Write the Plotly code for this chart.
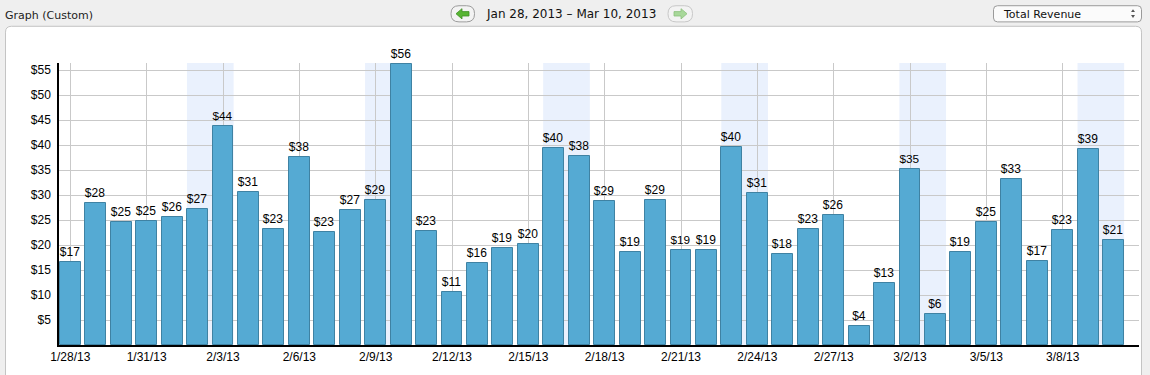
import plotly.graph_objects as go
import pandas as pd

# ---- data ----
start_date = "2013-01-28"
revenue = [16.6, 28.4, 24.7, 24.9, 25.6, 27.2, 43.8, 30.7, 23.3, 37.6,
           22.7, 27.0, 29.0, 56.3, 22.9, 10.6, 16.4, 19.4, 20.2, 39.5,
           37.8, 28.8, 18.6, 29.0, 19.0, 19.0, 39.7, 30.5, 18.2, 23.3,
           26.0, 3.9, 12.5, 35.2, 6.3, 18.6, 24.7, 33.3, 16.8, 23.1,
           39.3, 21.1]
dates = pd.date_range(start_date, periods=len(revenue), freq="D")
tick_dates = dates[::3]
tick_labels = ["1/28/13", "1/31/13", "2/3/13", "2/6/13", "2/9/13", "2/12/13",
               "2/15/13", "2/18/13", "2/21/13", "2/24/13", "2/27/13", "3/2/13",
               "3/5/13", "3/8/13"]
y_ticks = [5, 10, 15, 20, 25, 30, 35, 40, 45, 50, 55]
y_tick_labels = ["$" + str(v) for v in y_ticks]
title_text = "Graph (Custom)"
range_text = "Jan 28, 2013 \u2013 Mar 10, 2013"
metric_text = "Total Revenue"

# ---- geometry ----
W, H = 1150, 375
L, R, T, B = 59, 1139, 63, 351
PW, PH = R - L, B - T
DAY = 86400000


def px(x):
    return (x - L) / PW


def py(y):
    return (B - y) / PH


def rrect(x0, y0, x1, y1, r):
    pts = (f"M {px(x0 + r)},{py(y0)} L {px(x1 - r)},{py(y0)} "
           f"Q {px(x1)},{py(y0)} {px(x1)},{py(y0 + r)} "
           f"L {px(x1)},{py(y1 - r)} Q {px(x1)},{py(y1)} {px(x1 - r)},{py(y1)} "
           f"L {px(x0 + r)},{py(y1)} Q {px(x0)},{py(y1)} {px(x0)},{py(y1 - r)} "
           f"L {px(x0)},{py(y0 + r)} Q {px(x0)},{py(y0)} {px(x0 + r)},{py(y0)} Z")
    return pts


def poly(points):
    s = "M " + " L ".join(f"{px(a)},{py(b)}" for a, b in points) + " Z"
    return s


fig = go.Figure()
fig.add_trace(go.Bar(
    x=dates, y=revenue, width=0.82 * DAY,
    marker=dict(color="#55aad3", line=dict(color="#3f82a3", width=1)),
    texttemplate="$%{y:.0f}", textposition="outside",
    textfont=dict(family="Liberation Sans, Arial", size=12, color="#000"),
    cliponaxis=False, hoverinfo="skip",
))

shapes = []
# page panel
shapes.append(dict(type="path", xref="paper", yref="paper",
                   path=rrect(5.5, 25.5, 1141.5, 395, 6),
                   fillcolor="white", line=dict(color="#c4c4c4", width=1),
                   layer="below"))
# weekend bands
for d in dates:
    if d.weekday() == 5:
        shapes.append(dict(type="rect", xref="x", yref="paper",
                           x0=d - pd.Timedelta(hours=10),
                           x1=d + pd.Timedelta(days=1, hours=10),
                           y0=0, y1=1, fillcolor="#eaf1fd", line=dict(width=0),
                           layer="below"))
# nav buttons
shapes.append(dict(type="path", xref="paper", yref="paper",
                   path=rrect(451, 4.5, 474.5, 21, 8),
                   fillcolor="#f3f3f3", line=dict(color="#9c9c9c", width=1)))
shapes.append(dict(type="path", xref="paper", yref="paper",
                   path=poly([(456, 12.7), (462, 7.5), (462, 10.5), (469, 10.5),
                              (469, 15), (462, 15), (462, 18)]),
                   fillcolor="#58b533", line=dict(color="#3f8f25", width=0.8)))
shapes.append(dict(type="path", xref="paper", yref="paper",
                   path=rrect(668, 4.5, 692.5, 21, 8),
                   fillcolor="#f3f3f3", line=dict(color="#c8c8c8", width=1)))
shapes.append(dict(type="path", xref="paper", yref="paper",
                   path=poly([(687, 12.7), (681, 7.5), (681, 10.5), (674, 10.5),
                              (674, 15), (681, 15), (681, 18)]),
                   fillcolor="#a8d89a", line=dict(color="#8cc07c", width=0.8)))
# dropdown
shapes.append(dict(type="path", xref="paper", yref="paper",
                   path=rrect(993.5, 4.5, 1141.5, 21, 4),
                   fillcolor="#fbfbfb", line=dict(color="#9a9a9a", width=1)))
shapes.append(dict(type="path", xref="paper", yref="paper",
                   path=poly([(1131, 11), (1135, 11), (1133, 8)]),
                   fillcolor="#555", line=dict(width=0)))
shapes.append(dict(type="path", xref="paper", yref="paper",
                   path=poly([(1131, 14), (1135, 14), (1133, 17)]),
                   fillcolor="#555", line=dict(width=0)))

annotations = [
    dict(text=title_text, xref="paper", yref="paper", x=px(3), y=py(15),
         xanchor="left", yanchor="middle", showarrow=False,
         font=dict(family="DejaVu Sans", size=11, color="#222")),
    dict(text=range_text, xref="paper", yref="paper", x=px(571), y=py(13),
         xanchor="center", yanchor="middle", showarrow=False,
         font=dict(family="DejaVu Sans", size=12, color="#111")),
    dict(text=metric_text, xref="paper", yref="paper", x=px(1001), y=py(13),
         xanchor="left", yanchor="middle", showarrow=False,
         font=dict(family="DejaVu Sans", size=11, color="#111")),
]

fig.update_layout(
    width=W, height=H,
    margin=dict(l=L, r=W - R, t=T, b=H - B, pad=0),
    paper_bgcolor="#efefef", plot_bgcolor="rgba(0,0,0,0)",
    showlegend=False, shapes=shapes, annotations=annotations,
    bargap=0,
)
fig.update_xaxes(
    type="date",
    range=[dates[0] - pd.Timedelta(hours=10.7), dates[0] + pd.Timedelta(days=42)],
    tickmode="array", tickvals=tick_dates, ticktext=tick_labels,
    showgrid=True, gridcolor="#c9c9c9", gridwidth=1,
    showline=True, linecolor="#000", linewidth=1.5,
    ticks="", ticklen=0, zeroline=False,
    tickfont=dict(family="Liberation Sans, Arial", size=12, color="#000"),
)
fig.update_yaxes(
    range=[0, 56.4], tickmode="array", tickvals=y_ticks, ticktext=y_tick_labels,
    showgrid=True, gridcolor="#c9c9c9", gridwidth=1,
    showline=True, linecolor="#000", linewidth=1.5,
    ticks="outside", ticklen=4, tickcolor="rgba(0,0,0,0)", zeroline=False,
    tickfont=dict(family="Liberation Sans, Arial", size=12, color="#000"),
)

fig.write_html("out.html",
               config={"displayModeBar": False},
               post_script="document.body.style.margin='0';"
                           "document.body.style.overflow='hidden';")
